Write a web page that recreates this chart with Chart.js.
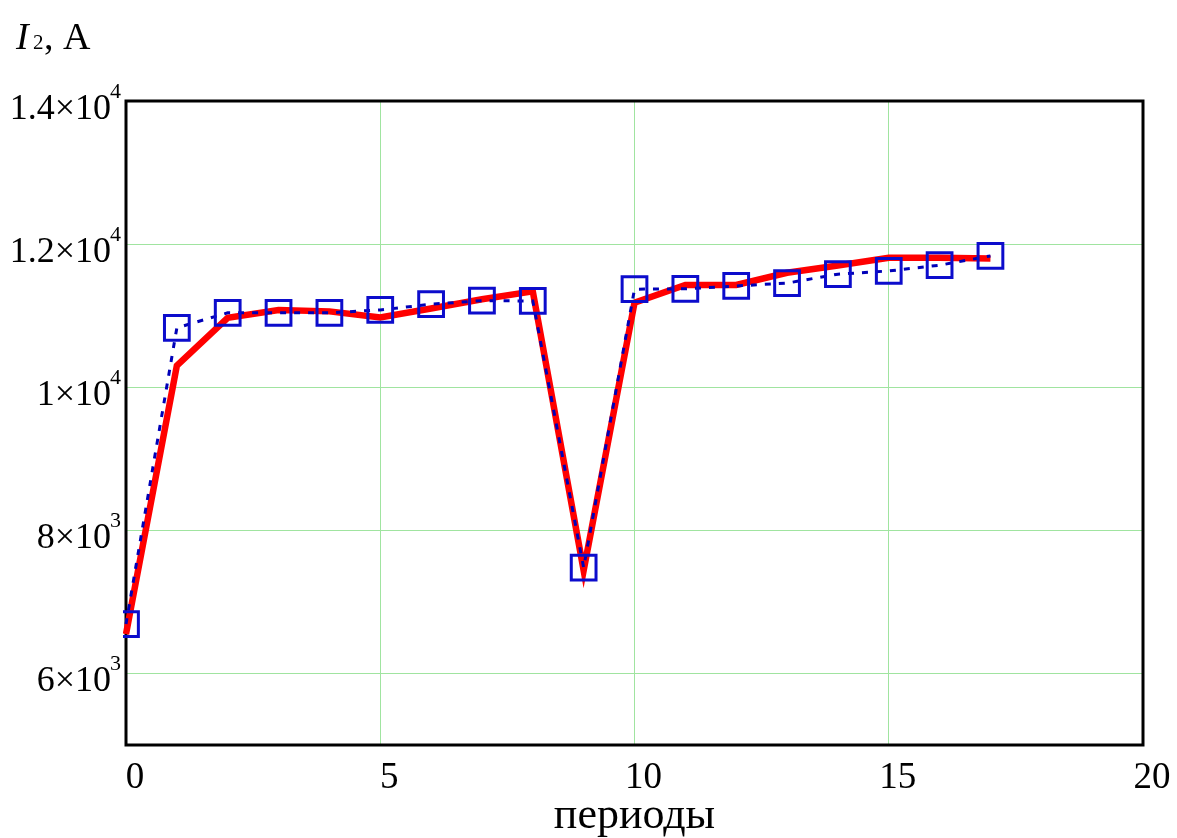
<!DOCTYPE html>
<html><head><meta charset="utf-8">
<script src="https://cdn.jsdelivr.net/npm/chart.js@4/dist/chart.umd.min.js"></script>
<style>html,body{margin:0;padding:0;background:#fff;}#wrap{width:1177px;height:838px;}</style>
</head><body><div id="wrap"><canvas id="c" width="1177" height="838"></canvas></div>
<script>
const periods = [0, 1, 2, 3, 4, 5, 6, 7, 8, 9, 10, 11, 12, 13, 14, 15, 16, 17];
const i2Solid = [6550, 10300, 10970, 11080, 11060, 10975, 11100, 11230, 11340, 7440, 11180, 11430, 11430, 11600, 11700, 11810, 11810, 11800];
const i2Squares = [6690, 10830, 11040, 11040, 11040, 11080, 11160, 11210, 11205, 7480, 11370, 11375, 11415, 11455, 11580, 11625, 11705, 11835];
const yTickValues = [6000, 8000, 10000, 12000, 14000];
const yTickMantissa = ['6×10', '8×10', '1×10', '1.2×10', '1.4×10'];
const yTickExponent = ['3', '3', '4', '4', '4'];
const xTickValues = [0, 5, 10, 15, 20];
const xTitle = 'периоды';
const yTitleMain = 'I';
const yTitleSub = '2';
const yTitleRest = ', A';

const SERIF = '"Liberation Serif", "Times New Roman", serif';
const GRID = '#a0e4a0';

const frame = {
  id: 'frame',
  beforeDatasetsDraw(chart) {
    const {ctx, chartArea: a} = chart;
    ctx.save();
    ctx.strokeStyle = '#000';
    ctx.lineWidth = 3;
    ctx.strokeRect(a.left, a.top, a.right - a.left, a.bottom - a.top);
    ctx.restore();
  },
  afterDraw(chart) {
    const {ctx} = chart;
    const ys = chart.scales.y;
    ctx.save();
    ctx.fillStyle = '#000';
    ctx.textBaseline = 'alphabetic';
    yTickValues.forEach((v, i) => {
      const py = ys.getPixelForValue(v);
      ctx.font = '22px ' + SERIF;
      ctx.textAlign = 'left';
      ctx.fillText(yTickExponent[i], 110, py - 3);
      ctx.font = '36px ' + SERIF;
      ctx.textAlign = 'right';
      ctx.fillText(yTickMantissa[i], 111, py + 18);
    });
    ctx.textAlign = 'left';
    ctx.font = 'italic 38px ' + SERIF;
    ctx.fillText(yTitleMain, 16, 49);
    ctx.font = '21px ' + SERIF;
    ctx.fillText(yTitleSub, 33, 49);
    ctx.font = '38px ' + SERIF;
    ctx.fillText(yTitleRest, 44, 49);
    ctx.restore();
  }
};

new Chart(document.getElementById('c'), {
  type: 'line',
  data: {
    datasets: [
      {
        label: 'squares',
        data: periods.map((p, i) => ({x: p, y: i2Squares[i]})),
        borderColor: '#0000b8',
        borderWidth: 3,
        borderDash: [6, 8],
        pointStyle: 'rect',
        pointRadius: 17.5,
        pointBorderWidth: 3,
        pointBorderColor: '#0c0ccc',
        pointBackgroundColor: 'rgba(0,0,0,0)',
        clip: 3,
        order: 0
      },
      {
        label: 'solid',
        data: periods.map((p, i) => ({x: p, y: i2Solid[i]})),
        borderColor: '#ff0000',
        borderWidth: 6.5,
        borderJoinStyle: 'miter',
        pointRadius: 0,
        clip: 3,
        order: 1
      }
    ]
  },
  options: {
    responsive: false,
    animation: false,
    devicePixelRatio: 1,
    layout: {padding: {top: 101, right: 34, left: 0, bottom: 0}},
    plugins: {legend: {display: false}, tooltip: {enabled: false}},
    scales: {
      x: {
        type: 'linear', min: 0, max: 20,
        afterBuildTicks(s) { s.ticks = xTickValues.map(v => ({value: v})); },
        afterFit(s) { s.height = 93; },
        ticks: {font: {family: SERIF, size: 37}, color: '#000', padding: 11, labelOffset: 9, maxRotation: 0, autoSkip: false},
        grid: {color: GRID, lineWidth: 1, drawTicks: false},
        border: {display: false},
        title: {display: true, text: xTitle, color: '#000', font: {family: SERIF, size: 44, lineHeight: 1}, padding: {top: 0, bottom: 0}}
      },
      y: {
        type: 'linear', min: 5000, max: 14000,
        afterBuildTicks(s) { s.ticks = yTickValues.map(v => ({value: v})); },
        afterFit(s) { s.width = 126; },
        ticks: {display: false},
        grid: {color: GRID, lineWidth: 1, drawTicks: false},
        border: {display: false}
      }
    }
  },
  plugins: [frame]
});
</script></body></html>
